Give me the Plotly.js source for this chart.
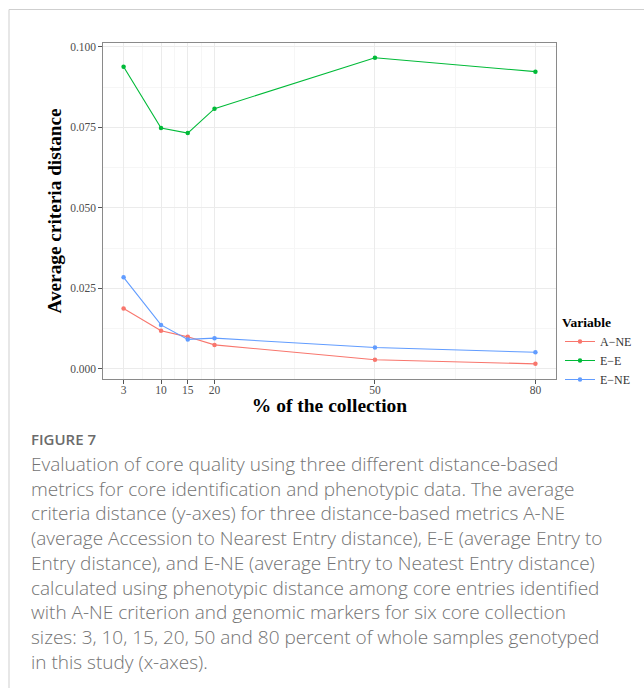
<!DOCTYPE html>
<html>
<head>
<meta charset="utf-8">
<script src="https://cdn.plot.ly/plotly-3.0.1.min.js"></script>
<style>
  html, body { margin: 0; padding: 0; background: #ffffff; }
  #chart { width: 644px; height: 688px; }
</style>
</head>
<body>
<div id="chart"></div>
<script>
// ---- data ----
const sizes = [3, 10, 15, 20, 50, 80];
const seriesNames = ["A\u2212NE", "E\u2212E", "E\u2212NE"];
const aNE = [0.0187, 0.0118, 0.0099, 0.0074, 0.0028, 0.0015];
const eE  = [0.0938, 0.0748, 0.0732, 0.0808, 0.0966, 0.0923];
const eNE = [0.0284, 0.0136, 0.0091, 0.0095, 0.0066, 0.0051];
const yTicks = [0, 0.025, 0.05, 0.075, 0.1];
const yMinor = [0.0125, 0.0375, 0.0625, 0.0875];
const xTitle = "% of the collection";
const yTitle = "Average criteria distance";
const legendTitle = "Variable";
const figureLabel = "FIGURE 7";
const captionLines = [
  "Evaluation of core quality using three different distance-based",
  "metrics for core identification and phenotypic data. The average",
  "criteria distance (y-axes) for three distance-based metrics A-NE",
  "(average Accession to Nearest Entry distance), E-E (average Entry to",
  "Entry distance), and E-NE (average Entry to Neatest Entry distance)",
  "calculated using phenotypic distance among core entries identified",
  "with A-NE criterion and genomic markers for six core collection",
  "sizes: 3, 10, 15, 20, 50 and 80 percent of whole samples genotyped",
  "in this study (x-axes)."
];
const colors = ["#F8766D", "#00BA38", "#619CFF"];

// ---- layout geometry ----
const W = 644, H = 688;
const L = 103, R = 556, T = 43, B = 379;
const px = x => (x - L) / (R - L);
const py = y => (B - y) / (B - T);

// minor grid between consecutive x categories
const xMinor = [];
for (let i = 0; i < sizes.length - 1; i++) xMinor.push((sizes[i] + sizes[i + 1]) / 2);

const serif = "Liberation Serif, Times New Roman, serif";
const sans = "Open Sans, Noto Sans, sans-serif";
const vals = [aNE, eE, eNE];
const traces = vals.map((v, i) => ({
  type: "scatter",
  mode: "lines+markers",
  x: sizes,
  y: v,
  name: seriesNames[i],
  line: { color: colors[i], width: 1.1 },
  marker: { color: colors[i], size: 4.5 }
}));

const annotations = [
  {
    xref: "paper", yref: "paper", x: px(30), y: py(439),
    xanchor: "left", yanchor: "middle", showarrow: false, borderpad: 0,
    text: figureLabel,
    font: { family: sans, size: 15, color: "#6b6b6b", weight: 600 }
  },
  {
    xref: "paper", yref: "paper", x: px(30), y: py(450),
    xanchor: "left", yanchor: "top", align: "left", showarrow: false, borderpad: 0,
    text: captionLines.join("<br>"),
    font: { family: sans, size: 19, color: "#737373", weight: 300 }
  }
];

const layout = {
  width: W, height: H,
  margin: { l: L, r: W - R, t: T, b: H - B, pad: 0, autoexpand: false },
  paper_bgcolor: "#ffffff",
  plot_bgcolor: "#ffffff",
  showlegend: true,
  legend: {
    xref: "container", yref: "container",
    x: 560 / W, xanchor: "left",
    y: 1 - 352 / H, yanchor: "middle",
    title: { text: "<b>" + legendTitle + "</b>", font: { family: serif, size: 13.5, color: "#000" } },
    font: { family: serif, size: 12, color: "#333" },
    bgcolor: "rgba(0,0,0,0)",
    itemwidth: 30,
    tracegroupgap: 0
  },
  xaxis: {
    range: [-0.85, 83.85],
    tickvals: sizes,
    ticktext: sizes.map(String),
    ticks: "outside", ticklen: 3.5, tickcolor: "#555", tickwidth: 1,
    ticklabelstandoff: -4,
    showline: true, linecolor: "#8a8a8a", linewidth: 1.2, mirror: true,
    showgrid: true, gridcolor: "#ebebeb", gridwidth: 1,
    minor: { tickvals: xMinor, showgrid: true, gridcolor: "#f6f6f6", gridwidth: 1, ticks: "" },
    zeroline: false,
    tickfont: { family: serif, size: 11.5, color: "#4d4d4d" },
    title: { text: "<b>" + xTitle + "</b>", font: { family: serif, size: 19.5, color: "#000" }, standoff: 0 }
  },
  yaxis: {
    range: [-0.0032, 0.1012],
    tickvals: yTicks,
    tickformat: ".3f",
    ticks: "outside", ticklen: 3.5, tickcolor: "#555", tickwidth: 1,
    showline: true, linecolor: "#8a8a8a", linewidth: 1.2, mirror: true,
    showgrid: true, gridcolor: "#ebebeb", gridwidth: 1,
    minor: { tickvals: yMinor, showgrid: true, gridcolor: "#f6f6f6", gridwidth: 1, ticks: "" },
    zeroline: false,
    tickfont: { family: serif, size: 11.5, color: "#4d4d4d" },
    title: { text: "<b>" + yTitle + "</b>", font: { family: serif, size: 19.3, color: "#000" }, standoff: 3 }
  },
  shapes: [
    { type: "line", xref: "paper", yref: "paper", x0: px(9), x1: px(9), y0: py(9.5), y1: py(720),
      line: { color: "#cfcfcf", width: 1 } },
    { type: "line", xref: "paper", yref: "paper", x0: px(9), x1: px(700), y0: py(9.5), y1: py(9.5),
      line: { color: "#cfcfcf", width: 1 } }
  ],
  annotations: annotations
};

Plotly.newPlot("chart", traces, layout, { displayModeBar: false, staticPlot: true });
</script>
</body>
</html>
